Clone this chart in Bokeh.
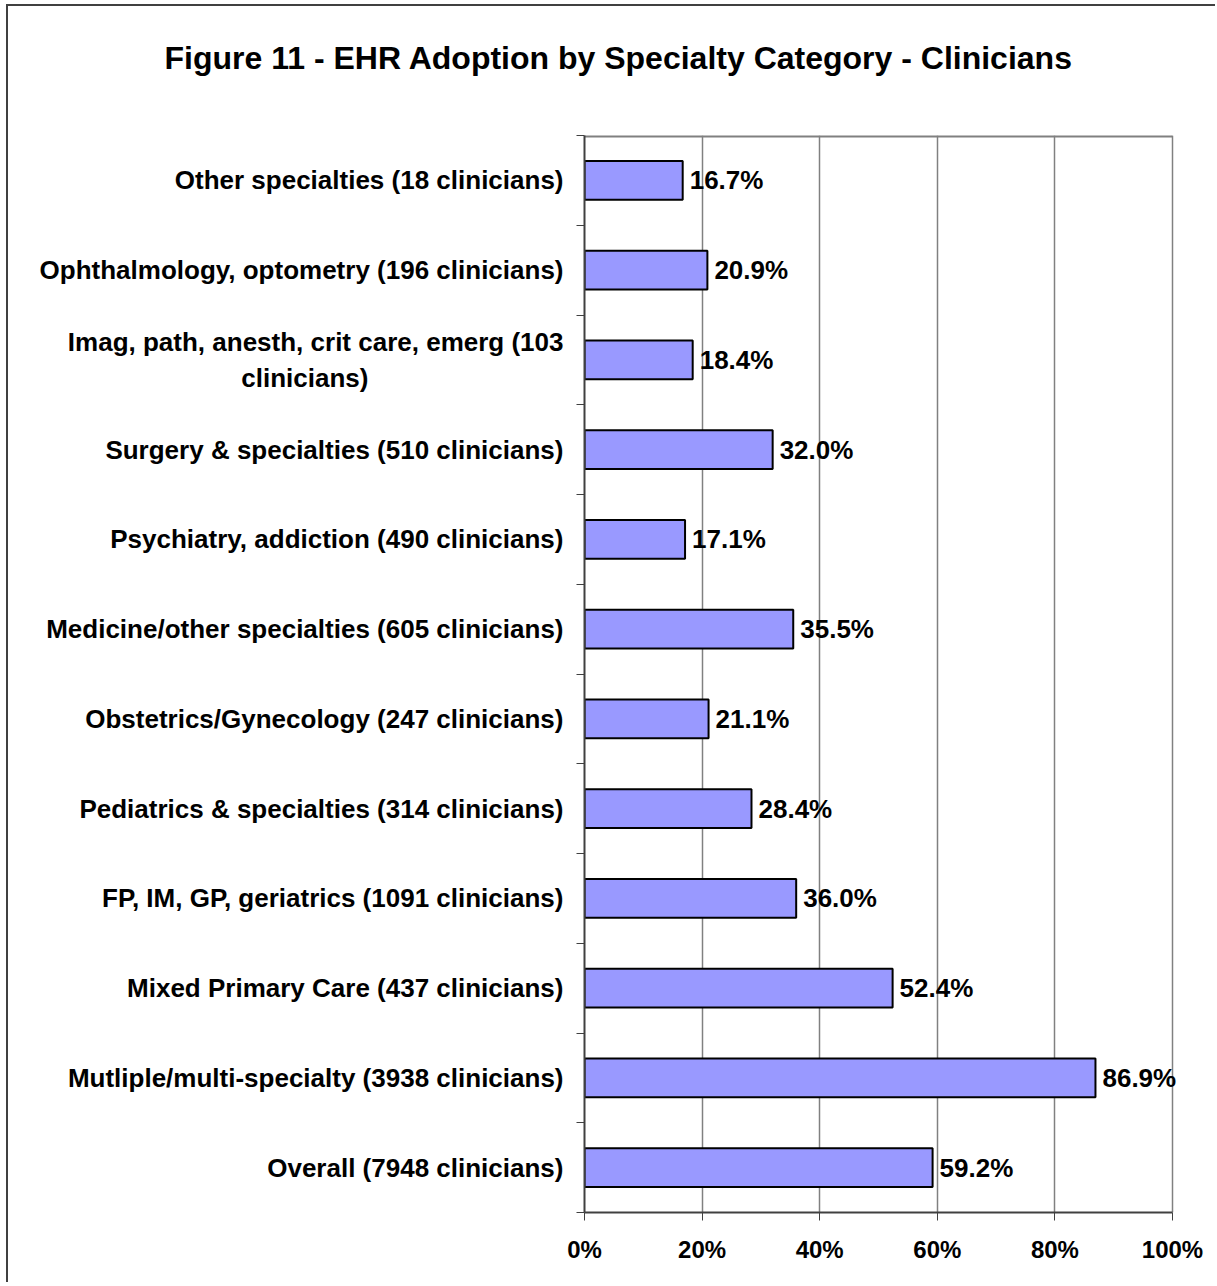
from bokeh.plotting import figure
from bokeh.models import ColumnDataSource, FixedTicker, LabelSet, Title
from bokeh.core.properties import value
from bokeh.embed import file_html
from bokeh.resources import INLINE

categories = [
    "Overall (7948 clinicians)",
    "Mutliple/multi-specialty (3938 clinicians)",
    "Mixed Primary Care (437 clinicians)",
    "FP, IM, GP, geriatrics (1091 clinicians)",
    "Pediatrics & specialties (314 clinicians)",
    "Obstetrics/Gynecology (247 clinicians)",
    "Medicine/other specialties (605 clinicians)",
    "Psychiatry, addiction (490 clinicians)",
    "Surgery & specialties (510 clinicians)",
    "Imag, path, anesth, crit care, emerg (103\nclinicians)",
    "Ophthalmology, optometry (196 clinicians)",
    "Other specialties (18 clinicians)",
]
values = [59.2, 86.9, 52.4, 36.0, 28.4, 21.1, 35.5, 17.1, 32.0, 18.4, 20.9, 16.7]
x_ticks = [0, 20, 40, 60, 80, 100]
title_text = "Figure 11 - EHR Adoption by Specialty Category - Clinicians"

FONT = "Liberation Sans"

# layout constants (pixels)
AXIS_W = 588          # pixel length of 0..100 %
EXTRA_R = 12          # room to the right of 100 % so value labels are not clipped
FRAME_W = AXIS_W + EXTRA_R
FRAME_H = 1077
BORDER_L = 576
BORDER_T = 129
FIG_W = 1209
FIG_H = 1278
LABEL_PX = "26px"
TITLE_GAP = 57        # space between the title and the plot area

# wrapped labels are centred line by line in the original: pad the shorter
# line with no-break spaces so it sits under the middle of the longer one
LINE1_W = 511
LINE2_W = 126
NBSP_W = 7.23


def centred(label):
    if "\n" not in label:
        return label
    first, second = label.split("\n")
    pad = int(round((LINE1_W - LINE2_W) / 2.0 / NBSP_W))
    return first + "\n" + second + "\u00a0" * pad


x_max = x_ticks[-1] * FRAME_W / AXIS_W

ypos = [i + 0.5 for i in range(len(categories))]
src = ColumnDataSource(dict(
    y=ypos,
    v=values,
    lab=["%.1f%%" % v for v in values],
))

p = figure(width=FIG_W, height=FIG_H, output_backend="svg", toolbar_location=None,
           title=None,
           x_range=(0, x_max), y_range=(0, len(categories)),
           min_border_left=BORDER_L, min_border_right=FIG_W - BORDER_L - FRAME_W,
           min_border_top=BORDER_T, min_border_bottom=FIG_H - BORDER_T - FRAME_H)

# spacer (nearest to the plot area) and the real title above it
p.add_layout(Title(text=" ", text_font_size="1px", standoff=TITLE_GAP), "above")
p.add_layout(Title(text=title_text, text_font=FONT, text_font_size="32px",
                   text_font_style="bold", text_color="black", align="left",
                   offset=-420, standoff=0), "above")

p.xgrid.ticker = FixedTicker(ticks=x_ticks)
p.xgrid.grid_line_color = "#808080"
p.xgrid.grid_line_width = 1.5
p.ygrid.grid_line_color = None

# top border of the plot area (0 % .. 100 %)
p.segment(x0=[x_ticks[0]], x1=[x_ticks[-1]], y0=[len(categories)], y1=[len(categories)],
          line_color="#808080", line_width=4)

p.hbar(y="y", right="v", left=0, height=0.43, source=src,
       fill_color="#9999FF", line_color="black", line_width=2)

labels = LabelSet(x="v", y="y", text="lab", source=src, x_offset=7, y_offset=0,
                  text_baseline="middle", text_font=value(FONT), text_font_size=LABEL_PX,
                  text_font_style="bold", text_color="black")
p.add_layout(labels)

# x axis
p.xaxis.ticker = FixedTicker(ticks=x_ticks)
p.xaxis.bounds = (x_ticks[0], x_ticks[-1])
p.xaxis.major_label_overrides = {t: "%d%%" % t for t in x_ticks}
p.xaxis.major_label_text_font = FONT
p.xaxis.major_label_text_font_size = "24px"
p.xaxis.major_label_text_font_style = "bold"
p.xaxis.major_label_text_color = "black"
p.xaxis.major_label_standoff = 15
p.xaxis.major_tick_in = 0
p.xaxis.major_tick_out = 8
p.xaxis.minor_tick_line_color = None
p.xaxis.axis_line_color = "#404040"
p.xaxis.axis_line_width = 2
p.xaxis.major_tick_line_color = "#404040"

# y axis: labels at category centres, ticks at category boundaries
p.yaxis.ticker = FixedTicker(ticks=ypos, minor_ticks=list(range(len(categories) + 1)))
p.yaxis.major_label_overrides = {y: centred(c) for y, c in zip(ypos, categories)}
p.yaxis.major_label_text_font = FONT
p.yaxis.major_label_text_font_size = LABEL_PX
p.yaxis.major_label_text_font_style = "bold"
p.yaxis.major_label_text_color = "black"
p.yaxis.major_label_standoff = 13
p.yaxis.major_tick_in = 0
p.yaxis.major_tick_out = 0
p.yaxis.minor_tick_in = 0
p.yaxis.minor_tick_out = 8
p.yaxis.minor_tick_line_color = "#404040"
p.yaxis.axis_line_color = "#404040"
p.yaxis.axis_line_width = 2

p.outline_line_color = None
p.background_fill_color = "white"
p.border_fill_color = "white"
p.styles = {"border-left": "2px solid #404040", "border-top": "2px solid #404040",
            "margin-left": "6px", "margin-top": "4px"}

open("out.html", "w").write(file_html(p, INLINE))
